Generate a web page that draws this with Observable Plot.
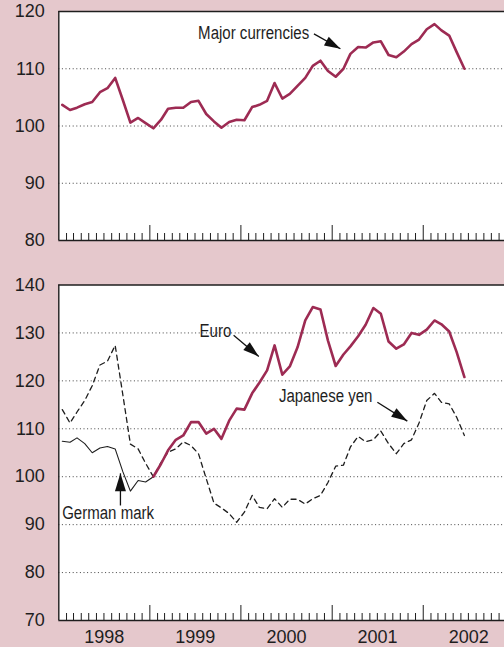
<!DOCTYPE html>
<html>
<head>
<meta charset="utf-8">
<script src="https://cdn.jsdelivr.net/npm/d3@7"></script>
<script src="https://cdn.jsdelivr.net/npm/@observablehq/plot@0.6"></script>
<style>
html, body { margin: 0; padding: 0; background: #e5c8cc; width: 504px; height: 647px; overflow: hidden; }
#chart svg { display: block; }
</style>
</head>
<body>
<div id="chart"></div>
<script>
// ---- data (monthly index values) ----
const seriesStart = "1998-01";   // first month of major currencies, yen and mark
const euroStart = "1999-01";     // first month of the euro series

const majorCurrencies = [
  103.7, 102.8, 103.2, 103.8, 104.2, 105.9, 106.6, 108.4, 104.5, 100.6, 101.4, 100.5,
  99.6, 101.1, 103.0, 103.2, 103.2, 104.2, 104.4, 102.1, 100.8, 99.7, 100.7, 101.1,
  101.0, 103.3, 103.7, 104.4, 107.5, 104.8, 105.6, 107.0, 108.4, 110.5, 111.4, 109.6,
  108.6, 110.0, 112.6, 113.8, 113.7, 114.6, 114.8, 112.4, 112.0, 113.0, 114.3, 115.1,
  116.9, 117.8, 116.7, 115.8, 112.9, 110.0
];
const euro = [
  100.0, 102.7, 105.5, 107.7, 108.6, 111.4, 111.4, 109.0, 110.0, 107.9, 111.7, 114.2,
  114.0, 117.4, 119.6, 122.2, 127.4, 121.3, 123.0, 127.0, 132.6, 135.4, 134.9, 128.4,
  123.1, 125.5, 127.2, 129.3, 131.7, 135.2, 134.0, 128.2, 126.7, 127.6, 130.0, 129.6,
  130.7, 132.6, 131.8, 130.3, 126.0, 120.8
];
const japaneseYen = [
  114.0, 111.2, 113.5, 115.9, 119.0, 123.3, 124.1, 127.4, 117.0, 106.8, 105.8, 102.8,
  100.0, 103.0, 105.1, 105.8, 107.3, 106.5, 104.8, 99.6, 94.5, 93.5, 92.3, 90.5,
  92.6, 96.1, 93.6, 93.3, 95.4, 93.6, 95.3, 95.3, 94.3, 95.4, 96.1, 98.8,
  102.2, 102.4, 106.2, 108.4, 107.3, 107.7, 109.5, 106.9, 104.8, 106.9, 107.7, 111.2,
  115.9, 117.4, 115.5, 115.2, 112.4, 108.6
];
const germanMark = [
  107.4, 107.2, 108.1, 106.9, 105.0, 106.0, 106.3, 105.8, 101.0, 97.0, 99.2, 98.9, 100.0
];

const yearLabels = ["1998", "1999", "2000", "2001", "2002"];
const topTicks = [80, 90, 100, 110, 120];
const topGrid = [90, 100, 110];
const bottomTicks = [70, 80, 90, 100, 110, 120, 130, 140];
const bottomGrid = [80, 90, 100, 110, 120, 130];

// annotation labels: [text, decimal year, value]; arrows: [label, from year, from value, to year, to value]
const topLabels = [["Major currencies", 1999.53, 116.2]];
const topArrows = [["Major currencies", 2000.80, 116.1, 2001.09, 113.5]];
const bottomLabels = [
  ["Euro", 1999.545, 130.3],
  ["Japanese yen", 2000.416, 116.8],
  ["German mark", 1998.037, 92.3]
];
const bottomArrows = [
  ["Euro", 1999.92, 129.5, 2000.196, 125.1],
  ["Japanese yen", 2001.496, 115.55, 2001.825, 111.6],
  ["German mark", 1998.677, 94.0, 1998.677, 100.7]
];

// ---- helpers ----
const parseMonth = d3.utcParse("%Y-%m");
function toSeries(values, start) {
  const s = parseMonth(start);
  return values.map((v, i) => ({date: d3.utcDay.offset(d3.utcMonth.offset(s, i), 14), value: v}));
}
function decYear(y) {
  const y0 = Math.floor(y);
  const a = Date.UTC(y0, 0, 1), b = Date.UTC(y0 + 1, 0, 1);
  return new Date(a + (y - y0) * (b - a));
}
const lbl = (rows) => rows.map(([text, x, y]) => ({text, x: decYear(x), y}));
const arr = (rows) => rows.map(([text, x1, y1, x2, y2]) => ({text, x1: decYear(x1), y1, x2: decYear(x2), y2}));

// ---- styles ----
const MAROON = "#9d2b53";
const INK = "#1e1e1e";
const FONT = "'Liberation Sans', Arial, Helvetica, sans-serif";
const CONDENSE = 0.835; // the reference labels use a condensed face
const xDomain = [new Date(Date.UTC(1998, 0, 1)), new Date(Date.UTC(2003, 0, 1))];
const xRange = [58.3, 513.8];
const monthStarts = d3.utcMonth.range(xDomain[0], xDomain[1]);
const minorTicks = monthStarts.filter(d => d.getUTCMonth() !== 0);
const majorTicks = monthStarts.filter(d => d.getUTCMonth() === 0 && d.getUTCFullYear() > 1998);
const midYears = yearLabels.map(y => new Date(Date.UTC(+y, 6, 2)));

const headSmall = {draw(ctx) { ctx.moveTo(0, 0); ctx.lineTo(5, 16); ctx.lineTo(-5, 16); ctx.closePath(); }};
const headLarge = {draw(ctx) { ctx.moveTo(0, 0); ctx.lineTo(5.5, 18); ctx.lineTo(-5.5, 18); ctx.closePath(); }};
const headAngle = {"Major currencies": 118.7, "Euro": 130, "Japanese yen": 122.3, "German mark": 0};

function frameMarks(grid) {
  return [
    Plot.frame({fill: "white", stroke: "none"}),
    Plot.ruleY(grid, {stroke: "#444", strokeWidth: 1, strokeDasharray: "1,2.6"})
  ];
}
function axisMarks(yMin, yMax, innerH) {
  return [
    Plot.ruleX(minorTicks, {x: d => d, insetTop: innerH - 7, stroke: INK, strokeWidth: 1}),
    Plot.ruleX(majorTicks, {x: d => d, insetTop: innerH - 15, stroke: INK, strokeWidth: 1}),
    Plot.ruleY([yMax], {stroke: INK, strokeWidth: 1.5}),
    Plot.ruleY([yMin], {stroke: INK, strokeWidth: 1.6}),
    Plot.ruleX([xDomain[0]], {stroke: INK, strokeWidth: 1.4})
  ];
}
function annotationMarks(labels, arrows) {
  const a = arr(arrows);
  return [
    Plot.link(a, {x1: "x1", y1: "y1", x2: "x2", y2: "y2", stroke: "#111", strokeWidth: 1.3}),
    ...a.map(d => Plot.dot([d], {
      x: "x2", y: "y2",
      symbol: d.text === "German mark" ? headLarge : headSmall,
      rotate: headAngle[d.text], fill: "#111", stroke: "none"
    })),
    Plot.text(lbl(labels), {x: "x", y: "y", text: "text", textAnchor: "start",
      fontFamily: FONT, fontSize: 18, fill: INK})
  ];
}

const baseStyle = {fontSize: "18px", fontFamily: FONT, color: INK, background: "transparent"};

// ---- top panel ----
const topH = 250, topMT = 11, topMB = 10;
const topInner = topH - topMT - topMB;
const topChart = Plot.plot({
  width: 504, height: topH,
  marginLeft: 58.3, marginRight: 0, marginTop: topMT, marginBottom: topMB,
  style: baseStyle,
  x: {type: "utc", domain: xDomain, range: xRange, axis: null},
  y: {domain: [80, 120], ticks: topTicks, tickSize: 0, tickPadding: 14, label: null},
  marks: [
    ...frameMarks(topGrid),
    Plot.line(toSeries(majorCurrencies, seriesStart), {x: "date", y: "value", stroke: MAROON, strokeWidth: 2.6}),
    ...axisMarks(80, 120, topInner),
    ...annotationMarks(topLabels, topArrows)
  ]
});

// ---- bottom panel ----
const botH = 397, botMT = 34.5, botMB = 27;
const botInner = botH - botMT - botMB;
const bottomChart = Plot.plot({
  width: 504, height: botH,
  marginLeft: 58.3, marginRight: 0, marginTop: botMT, marginBottom: botMB,
  style: baseStyle,
  x: {type: "utc", domain: xDomain, range: xRange, ticks: midYears,
      tickFormat: d3.utcFormat("%Y"), tickSize: 0, tickPadding: 10, label: null},
  y: {domain: [70, 140], ticks: bottomTicks, tickSize: 0, tickPadding: 14, label: null},
  marks: [
    ...frameMarks(bottomGrid),
    Plot.line(toSeries(japaneseYen, seriesStart), {x: "date", y: "value", stroke: INK, strokeWidth: 1.3, strokeDasharray: "5,4"}),
    Plot.line(toSeries(germanMark, seriesStart), {x: "date", y: "value", stroke: INK, strokeWidth: 1.1}),
    Plot.line(toSeries(euro, euroStart), {x: "date", y: "value", stroke: MAROON, strokeWidth: 2.6}),
    ...axisMarks(70, 140, botInner),
    ...annotationMarks(bottomLabels, bottomArrows)
  ]
});

document.getElementById("chart").append(topChart, bottomChart);

// squeeze the regular face to the condensed width of the reference labels
const labelNames = new Set([...topLabels, ...bottomLabels].map(d => d[0]));
d3.selectAll("#chart svg text").each(function() {
  if (!labelNames.has(this.textContent)) return;
  const w = this.getComputedTextLength();
  if (w > 0) {
    this.setAttribute("textLength", (w * CONDENSE).toFixed(1));
    this.setAttribute("lengthAdjust", "spacingAndGlyphs");
  }
});
</script>
</body>
</html>
